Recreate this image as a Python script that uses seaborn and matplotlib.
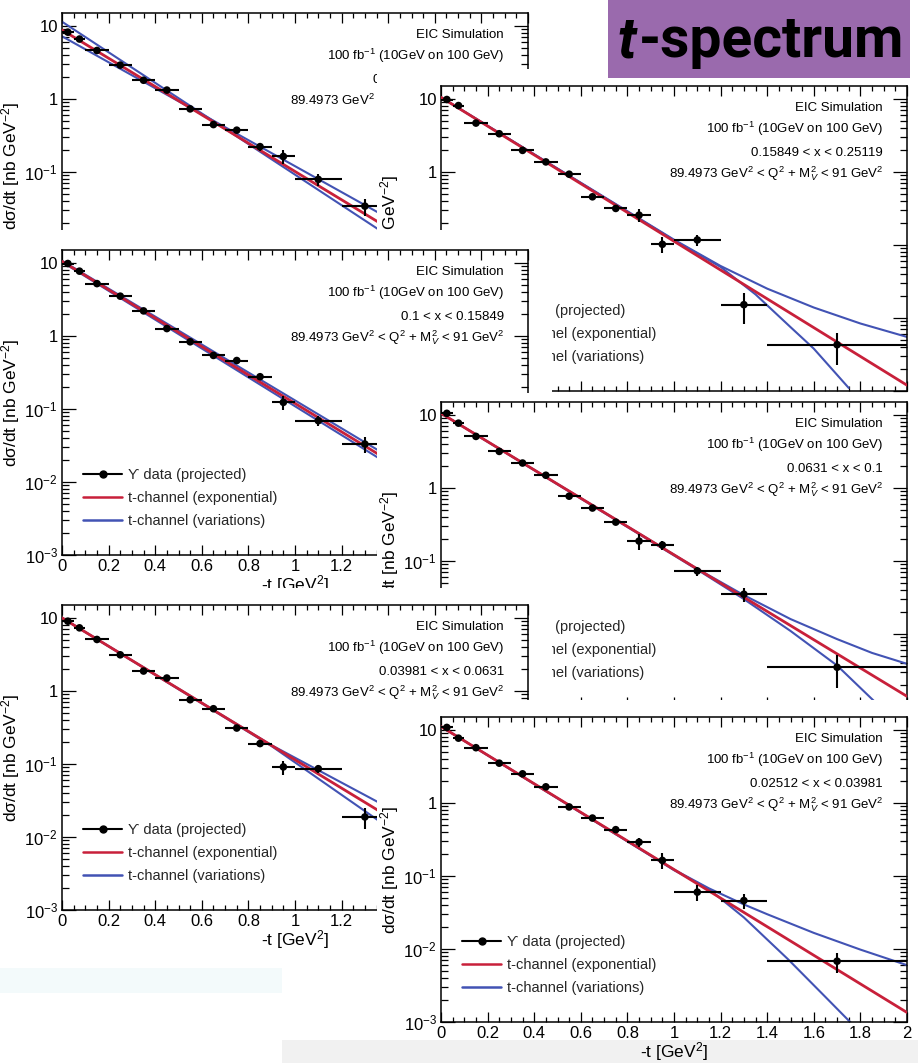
import numpy as np
import matplotlib
matplotlib.use("Agg")
import matplotlib.pyplot as plt
import seaborn as sns
from matplotlib.patches import Rectangle
from matplotlib.lines import Line2D
from matplotlib.ticker import (MultipleLocator, FixedLocator, FixedFormatter,
                               LogLocator, NullFormatter, FuncFormatter)

sns.set_theme(style="ticks")
plt.rcParams["font.family"] = ["Liberation Sans", "DejaVu Sans"]
plt.rcParams["mathtext.fontset"] = "custom"
plt.rcParams["mathtext.rm"] = "Liberation Sans"
plt.rcParams["mathtext.it"] = "Liberation Sans:italic"
plt.rcParams["mathtext.bf"] = "Liberation Sans:bold"

# ---------------- data ----------------
t_left = [0.025, 0.075, 0.15, 0.25, 0.35, 0.45, 0.55, 0.65, 0.75, 0.85, 0.95, 1.1, 1.3]
dt_left = [0.025, 0.025, 0.05, 0.05, 0.05, 0.05, 0.05, 0.05, 0.05, 0.05, 0.05, 0.1, 0.1]
t_right = [0.025, 0.075, 0.15, 0.25, 0.35, 0.45, 0.55, 0.65, 0.75, 0.85, 0.95, 1.1, 1.3, 1.7]
dt_right = [0.025, 0.025, 0.05, 0.05, 0.05, 0.05, 0.05, 0.05, 0.05, 0.05, 0.05, 0.1, 0.1, 0.3]

# panel A: 0.25119 < x < 0.39811
y_A = [8.2, 6.6, 4.6, 2.9, 1.8, 1.32, 0.73, 0.445, 0.373, 0.222, 0.163, 0.079, 0.034]
e_A = [0.3, 0.2, 0.12, 0.08, 0.06, 0.05, 0.03, 0.025, 0.03, 0.03, 0.035, 0.015, 0.009]
# panel B: 0.15849 < x < 0.25119
y_B = [9.8, 8.1, 4.66, 3.33, 1.97, 1.37, 0.93, 0.456, 0.316, 0.256, 0.102, 0.117, 0.0152, 0.0043]
e_B = [0.3, 0.3, 0.15, 0.1, 0.07, 0.05, 0.04, 0.04, 0.025, 0.05, 0.025, 0.02, 0.007, 0.002]
# panel C: 0.1 < x < 0.15849
y_C = [9.8, 7.7, 5.2, 3.5, 2.2, 1.26, 0.83, 0.54, 0.46, 0.276, 0.123, 0.069, 0.033]
e_C = [0.3, 0.2, 0.12, 0.08, 0.06, 0.04, 0.03, 0.025, 0.03, 0.03, 0.025, 0.011, 0.008]
# panel D: 0.0631 < x < 0.1
y_D = [10.5, 7.7, 5.07, 3.16, 2.19, 1.49, 0.77, 0.53, 0.34, 0.187, 0.165, 0.073, 0.035, 0.0035]
e_D = [0.3, 0.2, 0.12, 0.08, 0.06, 0.05, 0.03, 0.03, 0.025, 0.045, 0.025, 0.01, 0.008, 0.0017]
# panel E: 0.03981 < x < 0.0631
y_E = [9.0, 7.3, 5.06, 3.12, 1.87, 1.50, 0.757, 0.57, 0.31, 0.19, 0.091, 0.086, 0.0188]
e_E = [0.3, 0.2, 0.12, 0.08, 0.06, 0.05, 0.03, 0.03, 0.025, 0.02, 0.02, 0.012, 0.006]
# panel F: 0.02512 < x < 0.03981
y_F = [10.8, 7.7, 5.7, 3.5, 2.5, 1.66, 0.88, 0.62, 0.43, 0.29, 0.163, 0.060, 0.046, 0.0068]
e_F = [0.3, 0.25, 0.15, 0.1, 0.08, 0.06, 0.04, 0.035, 0.03, 0.04, 0.04, 0.014, 0.011, 0.0021]

# exponential fits (red): values at the two ends of the t range
fit_t = [0.0, 2.0]
red_A = [8.8, 0.00117]
red_B = [10.5, 0.0012]
red_C = [10.5, 0.00135]
red_D = [10.5, 0.0014]
red_E = [10.0, 0.0013]
red_F = [11.1, 0.00135]

# variations (blue)
varhi_t_A = [0.0, 2.0];  varhi_A = [7.2, 0.0020]
varlo_t_A = [0.0, 2.0];  varlo_A = [11.4, 0.00074]
varhi_t_B = [0.0, 1.0, 1.2, 1.4, 1.6, 1.8, 2.0]
varhi_B = [10.5, 0.118, 0.0515, 0.0252, 0.0139, 0.0084, 0.0055]
varlo_t_B = [0.0, 1.0, 1.2, 1.35, 1.5, 1.6, 1.75]
varlo_B = [10.5, 0.116, 0.05, 0.021, 0.0075, 0.0038, 0.0011]
varhi_t_C = [0.0, 2.0];  varhi_C = [10.7, 0.0016]
varlo_t_C = [0.0, 2.0];  varlo_C = [10.3, 0.00115]
varhi_t_D = [0.0, 1.1, 1.3, 1.5, 1.7, 1.85, 2.0]
varhi_D = [10.5, 0.078, 0.034, 0.016, 0.0085, 0.0055, 0.0039]
varlo_t_D = [0.0, 1.1, 1.3, 1.5, 1.7, 1.9]
varlo_D = [10.5, 0.076, 0.030, 0.011, 0.0037, 0.0009]
varhi_t_E = [0.0, 0.9, 2.0];  varhi_E = [10.0, 0.18, 0.0024]
varlo_t_E = [0.0, 0.9, 2.0];  varlo_E = [10.0, 0.175, 0.00063]
varhi_t_F = [0.0, 1.0, 1.15, 1.3, 1.4, 1.6, 1.8, 2.0]
varhi_F = [11.1, 0.122, 0.0676, 0.0407, 0.0299, 0.0166, 0.0098, 0.006]
varlo_t_F = [0.0, 1.0, 1.15, 1.3, 1.49, 1.65, 1.77]
varlo_F = [11.1, 0.12, 0.066, 0.027, 0.0072, 0.0022, 0.0009]

xbin_labels = ["0.25119 < x < 0.39811", "0.15849 < x < 0.25119", "0.1 < x < 0.15849",
               "0.0631 < x < 0.1", "0.03981 < x < 0.0631", "0.02512 < x < 0.03981"]
info_common = ["EIC Simulation", "100 fb$^{-1}$ (10GeV on 100 GeV)"]
q2_label = "89.4973 GeV$^{2}$ < Q$^{2}$ + M$_{V}^{2}$ < 91 GeV$^{2}$"
legend_labels = ["\u03d2 data (projected)", "t-channel (exponential)", "t-channel (variations)"]
y_major_ticks = [1e-3, 1e-2, 1e-1, 1, 10]
y_tick_labels = ["10$^{-3}$", "10$^{-2}$", "10$^{-1}$", "1", "10"]
xlabel = "-t [GeV$^{2}$]"
ylabel = "d\u03c3/dt [nb GeV$^{-2}$]"
title_italic = "t"
title_rest = "-spectrum"

RED = "#c8203a"
BLUE = "#4253b4"
PURPLE = "#9a6aad"

# ---------------- layout (pixels) ----------------
W, H = 918, 1063
AX_W, AX_H = 466, 305

panels = [
    dict(t=t_left, dt=dt_left, y=y_A, e=e_A, red=red_A, hi_t=varhi_t_A, hi=varhi_A,
         lo_t=varlo_t_A, lo=varlo_A, xb=xbin_labels[0], ax=(62, 13), canvas=(-2, -4, 554, 382)),
    dict(t=t_right, dt=dt_right, y=y_B, e=e_B, red=red_B, hi_t=varhi_t_B, hi=varhi_B,
         lo_t=varlo_t_B, lo=varlo_B, xb=xbin_labels[1], ax=(441, 86), canvas=(377, 69, 560, 382)),
    dict(t=t_left, dt=dt_left, y=y_C, e=e_C, red=red_C, hi_t=varhi_t_C, hi=varhi_C,
         lo_t=varlo_t_C, lo=varlo_C, xb=xbin_labels[2], ax=(62, 250), canvas=(-2, 230, 554, 385)),
    dict(t=t_right, dt=dt_right, y=y_D, e=e_D, red=red_D, hi_t=varhi_t_D, hi=varhi_D,
         lo_t=varlo_t_D, lo=varlo_D, xb=xbin_labels[3], ax=(441, 402), canvas=(377, 393, 560, 382)),
    dict(t=t_left, dt=dt_left, y=y_E, e=e_E, red=red_E, hi_t=varhi_t_E, hi=varhi_E,
         lo_t=varlo_t_E, lo=varlo_E, xb=xbin_labels[4], ax=(62, 605), canvas=(-2, 588, 554, 380)),
    dict(t=t_right, dt=dt_right, y=y_F, e=e_F, red=red_F, hi_t=varhi_t_F, hi=varhi_F,
         lo_t=varlo_t_F, lo=varlo_F, xb=xbin_labels[5], ax=(441, 717), canvas=(377, 700, 560, 340)),
]

fig = plt.figure(figsize=(W / 100, H / 100), dpi=100)
fig.patch.set_facecolor("white")


def fig_rect(x, y, w, h, color, z):
    r = Rectangle((x / W, 1 - (y + h) / H), w / W, h / H, transform=fig.transFigure,
                  facecolor=color, edgecolor="none", zorder=z)
    fig.add_artist(r)
    return r


# faint slide background bands
fig_rect(0, 968, 282, 25, "#f3fafb", 0.5)
fig_rect(282, 1040, 640, 30, "#f1f1f1", 0.5)

legend_handles = [
    Line2D([0], [0], color="black", marker="o", markersize=5, linewidth=1.5),
    Line2D([0], [0], color=RED, linewidth=1.8),
    Line2D([0], [0], color=BLUE, linewidth=1.8),
]

for i, p in enumerate(panels):
    cx, cy, cw, ch = p["canvas"]
    fig_rect(cx, cy, cw, ch, "white", 10 * i + 1)
    axl, axt = p["ax"]
    ax = fig.add_axes([axl / W, 1 - (axt + AX_H) / H, AX_W / W, AX_H / H])
    ax.set_zorder(10 * i + 2)
    ax.set_facecolor("white")
    ax.set_yscale("log")

    sns.lineplot(x=p["hi_t"], y=p["hi"], ax=ax, color=BLUE, linewidth=1.5,
                 estimator=None, sort=False, legend=False, zorder=2)
    sns.lineplot(x=p["lo_t"], y=p["lo"], ax=ax, color=BLUE, linewidth=1.5,
                 estimator=None, sort=False, legend=False, zorder=2)
    sns.lineplot(x=fit_t, y=p["red"], ax=ax, color=RED, linewidth=2.0,
                 estimator=None, sort=False, legend=False, zorder=3)
    ax.errorbar(p["t"], p["y"], xerr=p["dt"], yerr=p["e"], fmt="none",
                ecolor="black", elinewidth=1.5, capsize=0, zorder=4)
    sns.scatterplot(x=p["t"], y=p["y"], ax=ax, color="black", s=30,
                    edgecolor="none", legend=False, zorder=5)

    ax.set_xlim(0, 2)
    ax.set_ylim(1e-3, 15)
    ax.xaxis.set_major_locator(MultipleLocator(0.2))
    ax.xaxis.set_minor_locator(MultipleLocator(0.05))
    ax.xaxis.set_major_formatter(FuncFormatter(lambda v, pos: f"{v:g}"))
    ax.yaxis.set_major_locator(FixedLocator(y_major_ticks))
    ax.yaxis.set_major_formatter(FixedFormatter(y_tick_labels))
    ax.yaxis.set_minor_locator(LogLocator(base=10, subs=np.arange(2, 10) * 1.0, numticks=20))
    ax.yaxis.set_minor_formatter(NullFormatter())

    ax.tick_params(axis="both", which="both", direction="in", top=True, right=True,
                   color="black", width=0.9, labelsize=12, pad=3, labelcolor="black")
    ax.tick_params(axis="x", which="major", length=7)
    ax.tick_params(axis="x", which="minor", length=3.5)
    ax.tick_params(axis="y", which="major", length=10)
    ax.tick_params(axis="y", which="minor", length=5)
    for s in ax.spines.values():
        s.set_color("black")
        s.set_linewidth(1.1)

    ax.set_xlabel(xlabel, fontsize=12.5, color="black")
    ax.set_ylabel(ylabel, fontsize=12.5, color="black")
    ax.xaxis.set_label_coords(0.5, -18 / AX_H)
    ax.xaxis.label.set_va("top")
    ax.yaxis.set_label_coords(-40 / AX_W, 0.5)

    lines = info_common + [p["xb"], q2_label]
    for k, line in enumerate(lines):
        ax.text(1 - 24 / AX_W, 1 - (25 + 22.3 * k) / AX_H, line, transform=ax.transAxes,
                ha="right", va="baseline", fontsize=9.5, color="black")

    ax.legend(handles=legend_handles, labels=legend_labels, loc="upper left",
              bbox_to_anchor=(0.045, 0.285), frameon=False, fontsize=10.5,
              handlelength=2.7, handletextpad=0.4, labelspacing=0.62,
              borderpad=0, borderaxespad=0)

# purple title box
fig_rect(608, 0, 302, 78, PURPLE, 200)
t1 = fig.text(617 / W, 1 - 57 / H, title_italic, fontsize=41, fontweight="bold",
              fontstyle="italic", family="Roboto", color="black", zorder=201)
fig.canvas.draw()
bb = t1.get_window_extent()
fig.text((bb.x1 + 3) / W, 1 - 57 / H, title_rest, fontsize=41, fontweight="bold",
         family="Roboto", color="black", zorder=201)

fig.savefig("out.png", dpi=100, facecolor="white")
